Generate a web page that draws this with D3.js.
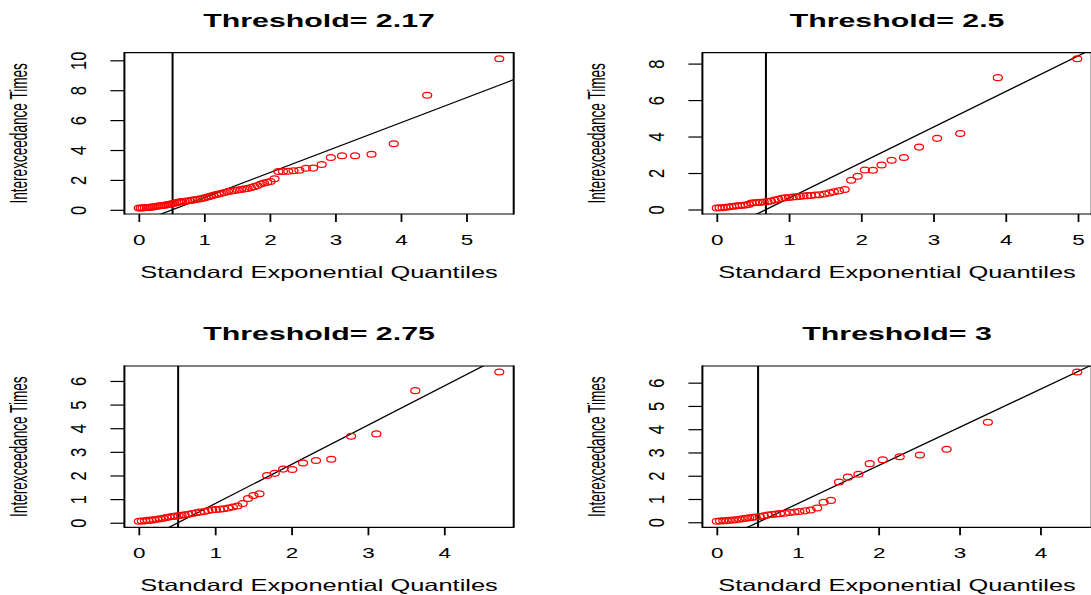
<!DOCTYPE html>
<html>
<head>
<meta charset="utf-8">
<script src="https://cdn.jsdelivr.net/npm/d3@7"></script>
<style>
  body { margin: 0; background: #fff; }
  svg { display: block; }
</style>
</head>
<body>
<script>
// QQ plots of interexceedance times against standard exponential quantiles, 4 thresholds

const titles = ["Threshold= 2.17", "Threshold= 2.5", "Threshold= 2.75", "Threshold= 3"];

// threshold 2.17
const x217 = [0.00,0.03,0.06,0.09,0.12,0.15,0.18,0.21,0.24,0.27,0.30,0.33,0.36,0.39,0.42,0.45,0.48,0.51,0.54,0.57,
  0.60,0.63,0.66,0.70,0.74,0.78,0.82,0.86,0.90,0.94,0.98,1.02,1.06,1.10,1.14,1.18,1.22,1.26,1.31,1.36,
  1.41,1.46,1.51,1.56,1.61,1.66,1.71,1.76,1.81,1.86,1.91,1.96,2.01,
  2.07,2.13,2.20,2.28,2.36,2.45,2.55,2.66,2.79,2.93,3.10,3.30,3.55,3.89,4.40,5.50];
const y217 = [0.12,0.12,0.13,0.14,0.15,0.16,0.18,0.19,0.21,0.24,0.26,0.27,0.29,0.31,0.33,0.36,0.39,0.41,0.44,0.48,
  0.51,0.53,0.55,0.57,0.59,0.62,0.65,0.68,0.71,0.74,0.78,0.83,0.88,0.93,0.98,1.02,1.06,1.11,1.16,1.22,
  1.26,1.30,1.33,1.36,1.40,1.43,1.49,1.55,1.62,1.72,1.80,1.85,1.90,
  2.08,2.56,2.56,2.58,2.62,2.65,2.78,2.79,3.03,3.50,3.61,3.61,3.72,4.42,7.67,10.11];

// threshold 2.5
const x25 = [0.00,0.04,0.08,0.12,0.16,0.20,0.24,0.28,0.32,0.36,0.40,0.44,0.48,0.52,0.56,0.60,0.65,0.70,0.75,0.80,
  0.85,0.90,0.95,1.00,1.05,1.10,1.15,1.20,1.25,1.30,1.36,1.42,1.49,1.56,1.62,1.69,1.77,
  1.86,1.95,2.05,2.16,2.28,2.42,2.59,2.80,3.05,3.37,3.89,4.99];
const y25 = [0.08,0.09,0.10,0.12,0.14,0.16,0.18,0.20,0.22,0.23,0.25,0.28,0.35,0.37,0.38,0.39,0.41,0.43,0.47,0.52,
  0.56,0.61,0.64,0.66,0.68,0.70,0.72,0.74,0.76,0.77,0.79,0.81,0.85,0.91,0.97,1.02,1.10,
  1.60,1.82,2.17,2.15,2.44,2.70,2.85,3.42,3.90,4.17,7.23,8.27];

// threshold 2.75
const x275 = [0.00,0.04,0.08,0.12,0.16,0.20,0.24,0.28,0.32,0.36,0.40,0.44,0.48,0.52,0.56,0.60,0.65,0.70,0.75,0.80,
  0.86,0.91,0.96,1.01,1.06,1.11,1.17,1.23,1.29,1.36,
  1.43,1.50,1.58,1.68,1.78,1.89,2.01,2.15,2.32,2.52,2.78,3.11,3.62,4.72];
const y275 = [0.06,0.07,0.08,0.10,0.11,0.13,0.15,0.17,0.19,0.22,0.24,0.26,0.28,0.30,0.32,0.34,0.36,0.39,0.42,0.45,
  0.48,0.52,0.55,0.56,0.57,0.59,0.62,0.67,0.71,0.81,
  1.03,1.15,1.23,2.00,2.09,2.27,2.25,2.53,2.63,2.69,3.66,3.76,5.59,6.38];

// threshold 3
const x3 = [0.00,0.04,0.08,0.12,0.16,0.20,0.24,0.28,0.32,0.36,0.40,0.44,0.48,0.53,0.58,0.63,0.68,0.73,0.78,0.84,
  0.90,0.96,1.02,1.09,1.16,1.24,
  1.32,1.41,1.51,1.62,1.75,1.89,2.05,2.26,2.51,2.84,3.35,4.455];
const y3 = [0.04,0.05,0.06,0.07,0.09,0.10,0.11,0.13,0.15,0.17,0.19,0.21,0.23,0.25,0.28,0.31,0.33,0.35,0.37,0.39,
  0.42,0.44,0.46,0.49,0.53,0.61,
  0.86,0.94,1.73,1.94,2.06,2.52,2.69,2.82,2.89,3.14,4.30,6.46];

const xs = [x217, x25, x275, x3];
const ys = [y217, y25, y275, y3];

// vertical marker and fitted line (intercept, slope) per panel
const vlines = [0.515, 0.68, 0.515, 0.51];
const lineA = [-0.85, -1.33, -0.85, -0.84];
const lineB = [1.67, 1.95, 1.66, 1.64];

const xTicks = [[0,1,2,3,4,5], [0,1,2,3,4,5], [0,1,2,3,4], [0,1,2,3,4]];
const yTicks = [[0,2,4,6,8,10], [0,2,4,6,8], [0,1,2,3,4,5,6], [0,1,2,3,4,5,6]];

const FONT = "'Liberation Sans', Arial, Helvetica, sans-serif";
const PW = 578, PH = 313.3;
const box = { left: 124.4, right: 513.7, top: 52.7, bottom: 214 };

const svg = d3.select("body").append("svg")
    .attr("width", 1091).attr("height", 595)
    .attr("font-family", FONT);

// R style range: data extent plus 4% on each side
function pad(e) {
    const r = e[1] - e[0];
    return [e[0] - 0.04 * r, e[1] + 0.04 * r];
}

titles.forEach((title, i) => {
    const g = svg.append("g")
        .attr("transform", "translate(" + [(i % 2) * PW, Math.floor(i / 2) * PH] + ")");

    const x = d3.scaleLinear().domain(pad(d3.extent(xs[i]))).range([box.left, box.right]);
    const y = d3.scaleLinear().domain(pad(d3.extent(ys[i]))).range([box.bottom, box.top]);

    g.append("clipPath").attr("id", "clip" + i)
        .append("rect")
        .attr("x", box.left).attr("y", box.top)
        .attr("width", box.right - box.left).attr("height", box.bottom - box.top);

    const plot = g.append("g").attr("clip-path", "url(#clip" + i + ")");

    // fitted line
    const xd = x.domain();
    plot.append("line")
        .attr("x1", x(xd[0])).attr("y1", y(lineA[i] + lineB[i] * xd[0]))
        .attr("x2", x(xd[1])).attr("y2", y(lineA[i] + lineB[i] * xd[1]))
        .attr("stroke", "#000").attr("stroke-width", 1.3);

    // vertical marker
    plot.append("line")
        .attr("x1", x(vlines[i])).attr("x2", x(vlines[i]))
        .attr("y1", box.top).attr("y2", box.bottom)
        .attr("stroke", "#000").attr("stroke-width", 2);

    // points (stretched circles)
    plot.selectAll(".pt").data(d3.zip(xs[i], ys[i])).enter()
        .append("ellipse").attr("class", "pt")
        .attr("cx", d => x(d[0])).attr("cy", d => y(d[1]))
        .attr("rx", 4.5).attr("ry", 2.9)
        .attr("fill", "none").attr("stroke", "#ff0000").attr("stroke-width", 1.25);

    // box
    g.append("line").attr("x1", box.left).attr("x2", box.right).attr("y1", box.top).attr("y2", box.top)
        .attr("stroke", "#000").attr("stroke-width", 1.2);
    g.append("line").attr("x1", box.left).attr("x2", box.right).attr("y1", box.bottom).attr("y2", box.bottom)
        .attr("stroke", "#000").attr("stroke-width", 1.2);
    g.append("line").attr("x1", box.left).attr("x2", box.left).attr("y1", box.top - 0.6).attr("y2", box.bottom + 0.6)
        .attr("stroke", "#000").attr("stroke-width", 2);
    g.append("line").attr("x1", box.right).attr("x2", box.right).attr("y1", box.top - 0.6).attr("y2", box.bottom + 0.6)
        .attr("stroke", "#000").attr("stroke-width", 2);

    // x axis
    const xa = g.append("g").attr("transform", "translate(0," + box.bottom + ")")
        .call(d3.axisBottom(x).tickValues(xTicks[i]).tickSize(8).tickSizeOuter(0).tickFormat(d3.format("d")));
    xa.attr("font-family", FONT);
    xa.select(".domain").remove();
    xa.selectAll(".tick line").attr("stroke", "#000").attr("stroke-width", 1.8);
    xa.selectAll(".tick text")
        .attr("y", null).attr("dy", null)
        .attr("transform", "translate(0,31) scale(1.55,1)")
        .attr("font-size", 14.5).attr("fill", "#000");

    // y axis
    const ya = g.append("g").attr("transform", "translate(" + box.left + ",0)")
        .call(d3.axisLeft(y).tickValues(yTicks[i]).tickSize(14).tickSizeOuter(0).tickFormat(d3.format("d")));
    ya.attr("font-family", FONT);
    ya.select(".domain").remove();
    ya.selectAll(".tick line").attr("stroke", "#000").attr("stroke-width", 1.2);
    ya.selectAll(".tick text")
        .attr("x", null).attr("dy", null)
        .attr("text-anchor", "middle")
        .attr("transform", "translate(-38,0) rotate(-90) scale(1,1.3)")
        .attr("font-size", 16.5).attr("fill", "#000");

    // labels
    g.append("text")
        .attr("transform", "translate(" + [(box.left + box.right) / 2, 26.7] + ") scale(1.63,1)")
        .attr("text-anchor", "middle").attr("font-size", 18.6).attr("font-weight", "bold")
        .text(title);

    g.append("text")
        .attr("transform", "translate(" + [(box.left + box.right) / 2, 278] + ") scale(1.56,1)")
        .attr("text-anchor", "middle").attr("font-size", 16.3)
        .text("Standard Exponential Quantiles");

    g.append("text")
        .attr("transform", "translate(" + [27.3, (box.top + box.bottom) / 2] + ") rotate(-90) scale(1,1.7)")
        .attr("text-anchor", "middle").attr("font-size", 13.6)
        .text("Interexceedance Times");
});
</script>
</body>
</html>
